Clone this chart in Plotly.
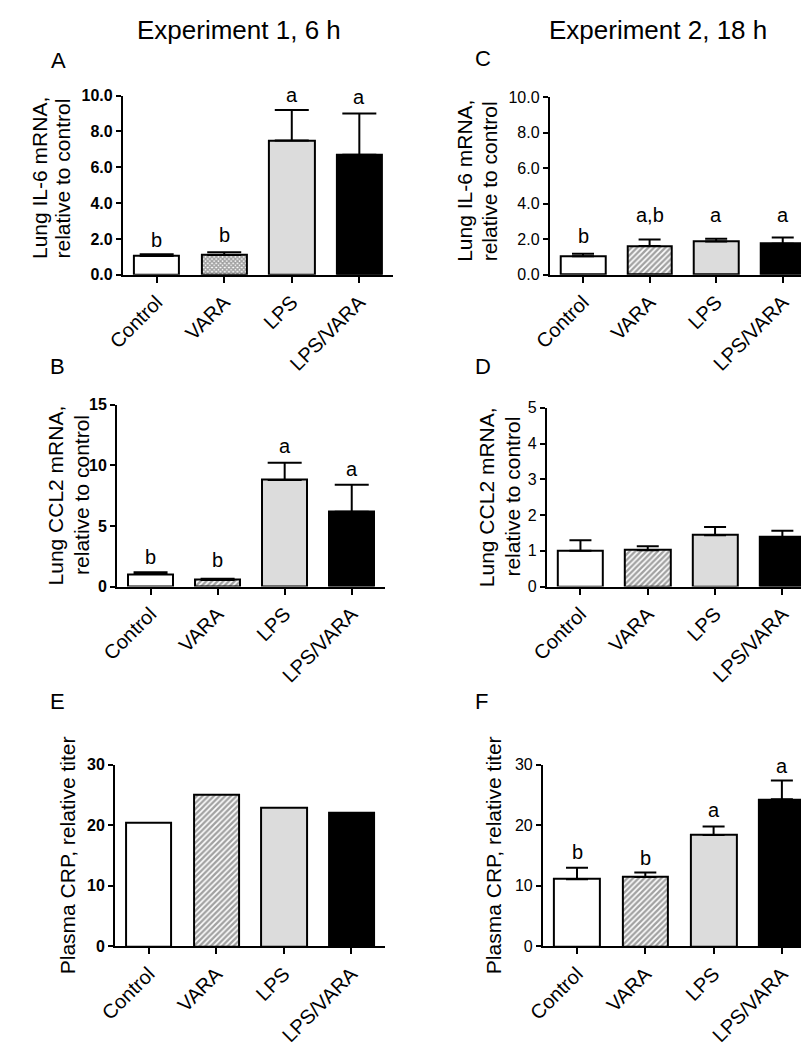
import plotly.graph_objects as go

W, H = 809, 1050

categories = ["Control", "VARA", "LPS", "LPS/VARA"]

# Panel A: Experiment 1, lung IL-6 mRNA
A_mean = [1.04, 1.10, 7.50, 6.70]
A_sem = [0.11, 0.16, 1.70, 2.30]
A_letters = ["b", "b", "a", "a"]
A_letter_y = [1.92, 2.20, 10.05, 9.90]

# Panel B: Experiment 1, lung CCL2 mRNA
B_mean = [1.03, 0.54, 8.78, 6.16]
B_sem = [0.16, 0.11, 1.42, 2.24]
B_letters = ["b", "b", "a", "a"]
B_letter_y = [2.43, 2.20, 11.60, 9.70]

# Panel C: Experiment 2, lung IL-6 mRNA
C_mean = [1.04, 1.62, 1.88, 1.75]
C_sem = [0.14, 0.36, 0.15, 0.35]
C_letters = ["b", "a,b", "a", "a"]
C_letter_y = [2.16, 3.38, 3.38, 3.38]

# Panel D: Experiment 2, lung CCL2 mRNA
D_mean = [1.00, 1.02, 1.44, 1.39]
D_sem = [0.30, 0.11, 0.23, 0.17]

# Panel E: Experiment 1, plasma CRP (pooled, no error)
E_mean = [20.5, 25.0, 22.9, 22.05]

# Panel F: Experiment 2, plasma CRP
F_mean = [11.1, 11.45, 18.4, 24.3]
F_sem = [1.9, 0.75, 1.4, 3.1]
F_letters = ["b", "b", "a", "a"]
F_letter_y = [15.6, 14.6, 22.5, 29.8]

IL6_ticks = [0, 2, 4, 6, 8, 10]
CCL2_ticks_1 = [0, 5, 10, 15]
CCL2_ticks_2 = [0, 1, 2, 3, 4, 5]
CRP_ticks = [0, 10, 20, 30]

FONT = "Liberation Sans, Arial, sans-serif"
NARROW = "Liberation Sans Narrow, Arial Narrow, Liberation Sans, Arial, sans-serif"

fill_colors = ["white", "white", "#dcdcdc", "black"]


def px_x(p):
    return p / W


def px_y(p):
    return 1 - p / H


panels = [
    dict(m=A_mean, s=A_sem, xd=(100, 376), yd=(81, 263), yr=[0, 10], tv=IL6_ticks, fmt=".1f", bold=True,
         pat="x", cap=17, let=A_letters, ly=A_letter_y),
    dict(m=C_mean, s=C_sem, xd=(536, 808), yd=(82.7, 263), yr=[0, 10], tv=IL6_ticks, fmt=".1f", bold=False,
         pat="/", cap=11, let=C_letters, ly=C_letter_y),
    dict(m=B_mean, s=B_sem, xd=(94, 368), yd=(395, 580), yr=[0, 15], tv=CCL2_ticks_1, fmt="d", bold=True,
         pat="/", cap=17, let=B_letters, ly=B_letter_y),
    dict(m=D_mean, s=D_sem, xd=(533, 808), yd=(398.3, 580), yr=[0, 5], tv=CCL2_ticks_2, fmt="d", bold=False,
         pat="/", cap=11, let=None, ly=None),
    dict(m=E_mean, s=None, xd=(92, 368), yd=(761, 945.7), yr=[0, 30], tv=CRP_ticks, fmt="d", bold=True,
         pat="/", cap=11, let=None, ly=None),
    dict(m=F_mean, s=F_sem, xd=(529, 808), yd=(761, 945.7), yr=[0, 30], tv=CRP_ticks, fmt="d", bold=False,
         pat="/", cap=11, let=F_letters, ly=F_letter_y),
]

fig = go.Figure()
layout = {}
annotations = []

for i, p in enumerate(panels):
    n = i + 1
    xa = "x" if n == 1 else f"x{n}"
    ya = "y" if n == 1 else f"y{n}"
    shapes = ["", "", "", ""]
    shapes[1] = p["pat"]
    err = None
    if p["s"] is not None:
        err = dict(type="data", symmetric=False, array=p["s"], arrayminus=[0] * 4,
                   color="black", thickness=2, width=p["cap"], visible=True)
    dotted = p["pat"] == "x"
    fig.add_trace(go.Bar(
        x=categories, y=p["m"], xaxis=xa, yaxis=ya, width=0.67,
        marker=dict(color=fill_colors, line=dict(color="black", width=2),
                    pattern=dict(shape=shapes, fgcolor="#111111", bgcolor="white",
                                 size=3 if dotted else 4, solidity=0.75 if dotted else 0.6)),
        error_y=err, showlegend=False, hoverinfo="skip",
    ))
    xkey = "xaxis" if n == 1 else f"xaxis{n}"
    ykey = "yaxis" if n == 1 else f"yaxis{n}"
    layout[xkey] = dict(
        domain=[px_x(p["xd"][0]), px_x(p["xd"][1])], anchor=ya,
        range=[-0.5, 3.5], type="category", showline=True, linecolor="black", linewidth=2,
        ticks="outside", ticklen=6, tickwidth=2, tickcolor="black", tickangle=-45,
        tickfont=dict(family=FONT, size=20, color="black"), showgrid=False, zeroline=False,
        fixedrange=True,
    )
    tick_text = [("<b>%s</b>" if p["bold"] else "%s") % (format(v, p["fmt"]) if p["fmt"] != "d" else str(v))
                 for v in p["tv"]]
    layout[ykey] = dict(
        domain=[px_y(p["yd"][1]), px_y(p["yd"][0])], anchor=xa,
        range=p["yr"], showline=True, linecolor="black", linewidth=2,
        ticks="outside", ticklen=5, tickwidth=2, tickcolor="black",
        tickvals=p["tv"], ticktext=tick_text,
        tickfont=dict(family=NARROW if p["bold"] else FONT, size=16, color="black"),
        showgrid=False, zeroline=False, fixedrange=True,
    )
    if p["let"] is not None:
        ppu = (p["yd"][1] - p["yd"][0]) / (p["yr"][1] - p["yr"][0])
        for c, t, yy in zip(categories, p["let"], p["ly"]):
            ycl = min(yy, p["yr"][1])
            annotations.append(dict(x=c, y=ycl, yshift=(yy - ycl) * ppu, xref=xa, yref=ya, text=t,
                                    showarrow=False,
                                    font=dict(family=FONT, size=20, color="black"),
                                    xanchor="center", yanchor="middle"))

# y-axis titles (each line placed separately: text, x centre px, y centre px)
ytitle_lines = [
    ("Lung IL-6 mRNA,", 15, 165), ("relative to control", 38, 165),
    ("Lung IL-6 mRNA,", 449, 168), ("relative to control", 474, 168),
    ("Lung CCL2 mRNA,", 31, 487), ("relative to control", 57, 487),
    ("Lung CCL2 mRNA,", 471, 489), ("relative to control", 498, 489),
    ("Plasma CRP, relative titer", 43, 853),
    ("Plasma CRP, relative titer", 478, 853),
]
for t, xx, yy in ytitle_lines:
    annotations.append(dict(x=px_x(xx), y=px_y(yy), xref="paper", yref="paper", text=t,
                            showarrow=False, textangle=-90, xanchor="center", yanchor="middle",
                            font=dict(family=FONT, size=21, color="black")))

# panel letters
letters = [("A", 34, 45), ("C", 468, 43), ("B", 33, 356), ("D", 468, 356), ("E", 33, 697), ("F", 466, 697)]
for t, xx, yy in letters:
    annotations.append(dict(x=px_x(xx), y=px_y(yy), xref="paper", yref="paper", text=t,
                            showarrow=False, xanchor="center", yanchor="middle",
                            font=dict(family=FONT, size=22, color="black")))

# column titles
for t, xx in [("Experiment 1, 6 h", 219), ("Experiment 2, 18 h", 647)]:
    annotations.append(dict(x=px_x(xx), y=px_y(14), xref="paper", yref="paper", text=t,
                            showarrow=False, xanchor="center", yanchor="middle",
                            font=dict(family=NARROW, size=26, color="black")))

fig.update_layout(
    width=W, height=H, margin=dict(l=0, r=0, t=0, b=0),
    paper_bgcolor="white", plot_bgcolor="white",
    annotations=annotations, bargap=0, **layout,
)

fig.write_html("out.html")
